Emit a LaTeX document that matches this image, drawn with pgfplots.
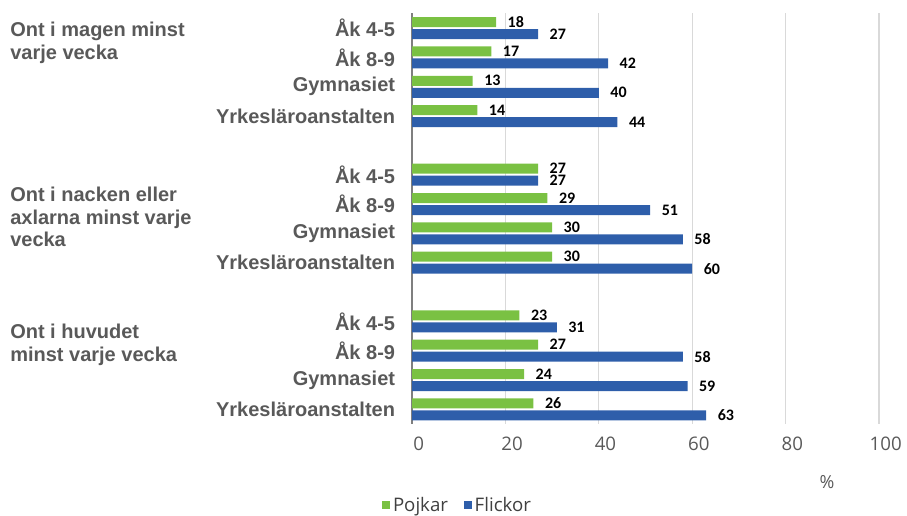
\documentclass[border=0pt]{standalone}
\usepackage{fontspec}
\setmainfont{Liberation Sans}
\newfontfamily\calibri{Carlito}
\newfontfamily\opensans{Open Sans}
\usepackage{pgfplots}
\pgfplotsset{compat=1.18}
\definecolor{pojkar}{HTML}{7AC143}
\definecolor{flickor}{HTML}{2E5EAA}
\definecolor{labelgray}{HTML}{595959}
\definecolor{gridgray}{HTML}{D9D9D9}
\definecolor{axisgray}{HTML}{7F7F7F}

\begin{document}
\begin{tikzpicture}
\path[use as bounding box] (0,0) rectangle (680.25pt,387pt);
\begin{axis}[
  at={(309pt,69pt)}, anchor=south west,
  scale only axis, width=350.25pt, height=307.9pt,
  xbar, bar width=7.5pt,
  xmin=0, xmax=100, ymin=-0.5, ymax=13.5,
  axis x line*=bottom, axis y line*=left,
  x axis line style={draw=none},
  y axis line style={draw=axisgray, line width=1.5pt},
  xmajorgrids, grid style={gridgray, line width=0.9pt},
  xtick={0,20,...,100},
  ytick={13,12,11,10,8,7,6,5,3,2,1,0},
  yticklabels={Åk 4-5,Åk 8-9,Gymnasiet,Yrkesläroanstalten,
               Åk 4-5,Åk 8-9,Gymnasiet,Yrkesläroanstalten,
               Åk 4-5,Åk 8-9,Gymnasiet,Yrkesläroanstalten},
  major tick length=0pt,
  /pgf/number format/assume math mode=true,
  yticklabel style={font=\bfseries\fontsize{15}{15}\selectfont, text=labelgray,
    anchor=east, inner sep=0pt, xshift=-12.5pt},
  xticklabel style={font=\opensans\fontsize{14}{14}\selectfont, text=labelgray,
    anchor=center, yshift=-15pt, xshift=5pt},
  xlabel={\%},
  xlabel style={at={(axis description cs:0.8887,-0.1413)}, anchor=center,
    font=\opensans\fontsize{13.5}{13.5}\selectfont, text=labelgray},
  nodes near coords,
  nodes near coords style={font=\calibri\bfseries\fontsize{12}{12}\selectfont,
    text=black, anchor=west, inner sep=0pt, xshift=8.5pt},
  legend columns=2,
  legend style={at={(axis description cs:0.0985,-0.1985)}, anchor=center,
    draw=none, font=\opensans\fontsize{14}{14}\selectfont, text=black!75,
    inner sep=1pt,
    /tikz/every even column/.append style={column sep=10pt}},
  legend image code/.code={\draw[#1,draw=none] (0pt,-3pt) rectangle (6pt,3pt);},
  clip=false,
]
\addplot[fill=pojkar, draw=none, bar shift=4.5pt] coordinates {
  (18,13) (17,12) (13,11) (14,10)
  (27,8) (29,7) (30,6) (30,5)
  (23,3) (27,2) (24,1) (26,0)
};
\addplot[fill=flickor, draw=none, bar shift=-4.5pt] coordinates {
  (27,13) (42,12) (40,11) (44,10)
  (27,8) (51,7) (58,6) (60,5)
  (31,3) (58,2) (59,1) (63,0)
};
\legend{Pojkar,Flickor}
\end{axis}
\begin{scope}[every node/.style={anchor=west, align=left, text=labelgray,
    font=\bfseries\fontsize{15}{17}\selectfont, inner sep=0pt}]
\node at (7.5pt,354.75pt) {Ont i magen minst\\varje vecka};
\node at (7.5pt,224.25pt) {Ont i nacken eller\\axlarna minst varje\\vecka};
\node at (7.5pt,128.25pt) {Ont i huvudet\\minst varje vecka};
\end{scope}
\end{tikzpicture}
\end{document}
